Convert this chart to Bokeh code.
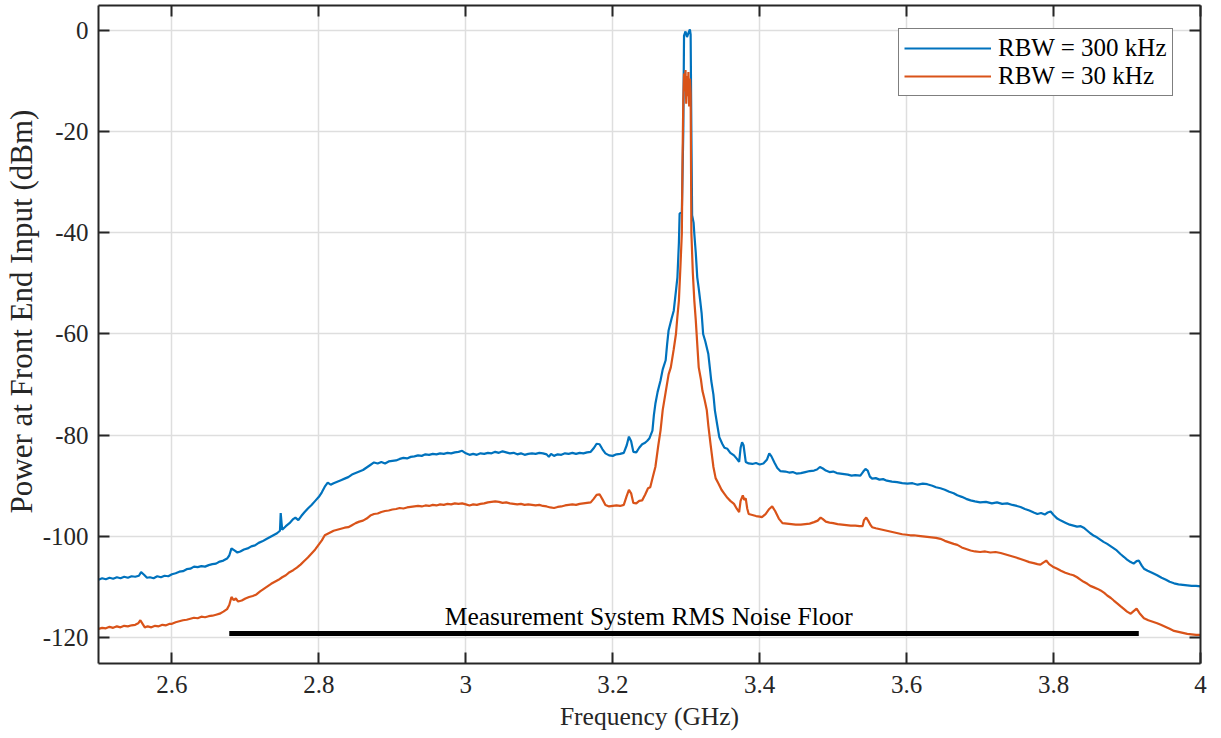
from bokeh.plotting import figure
from bokeh.models import Range1d, LinearAxis, FixedTicker, NumeralTickFormatter, Label, Title
from bokeh.embed import file_html
from bokeh.resources import INLINE

# ---------------- data ----------------
f_300 = [2.500, 2.505, 2.510, 2.515, 2.520, 2.525, 2.530, 2.535, 2.540, 2.545, 2.550, 2.555, 2.558, 2.562, 2.566,
         2.570, 2.575, 2.580, 2.585, 2.590, 2.595, 2.600, 2.605, 2.610, 2.615, 2.620, 2.625, 2.630, 2.635, 2.640,
         2.645, 2.650, 2.655, 2.660, 2.665, 2.670, 2.675, 2.678, 2.681, 2.685, 2.689, 2.693, 2.698, 2.703, 2.708,
         2.713, 2.718, 2.723, 2.728, 2.733, 2.738, 2.743, 2.747, 2.748, 2.750, 2.755, 2.760, 2.765, 2.768, 2.772,
         2.776, 2.780, 2.785, 2.790, 2.795, 2.800, 2.804, 2.808, 2.812, 2.816, 2.820, 2.825, 2.830, 2.835, 2.840,
         2.845, 2.850, 2.855, 2.860, 2.865, 2.870, 2.875, 2.880, 2.885, 2.890, 2.895, 2.900, 2.905, 2.910, 2.915,
         2.920, 2.925, 2.930, 2.935, 2.940, 2.945, 2.950, 2.955, 2.960, 2.965, 2.970, 2.975, 2.980, 2.985, 2.990,
         2.995, 3.000, 3.005, 3.010, 3.015, 3.020, 3.025, 3.030, 3.035, 3.040, 3.045, 3.050, 3.055, 3.060, 3.065,
         3.070, 3.075, 3.080, 3.085, 3.090, 3.095, 3.100, 3.105, 3.110, 3.113, 3.116, 3.120, 3.125, 3.130, 3.135,
         3.140, 3.145, 3.150, 3.155, 3.160, 3.165, 3.170, 3.174, 3.178, 3.182, 3.186, 3.190, 3.195, 3.200, 3.205,
         3.210, 3.215, 3.219, 3.222, 3.225, 3.228, 3.232, 3.236, 3.240, 3.244, 3.247, 3.250, 3.254, 3.256, 3.258,
         3.261, 3.265, 3.268, 3.272, 3.274, 3.276, 3.280, 3.283, 3.286, 3.288, 3.290, 3.291, 3.294, 3.296, 3.297,
         3.299, 3.301, 3.303, 3.305, 3.306, 3.307, 3.308, 3.310, 3.311, 3.313, 3.315, 3.317, 3.319, 3.321, 3.323,
         3.326, 3.330, 3.332, 3.334, 3.337, 3.339, 3.342, 3.345, 3.349, 3.352, 3.356, 3.360, 3.365, 3.369, 3.372,
         3.374, 3.376, 3.378, 3.381, 3.385, 3.390, 3.395, 3.400, 3.405, 3.410, 3.413, 3.416, 3.420, 3.424, 3.428,
         3.435, 3.440, 3.445, 3.450, 3.456, 3.462, 3.468, 3.474, 3.478, 3.482, 3.486, 3.490, 3.495, 3.500, 3.505,
         3.510, 3.515, 3.520, 3.525, 3.530, 3.537, 3.541, 3.544, 3.547, 3.550, 3.553, 3.558, 3.563, 3.568, 3.573,
         3.580, 3.587, 3.594, 3.601, 3.608, 3.615, 3.622, 3.628, 3.635, 3.640, 3.646, 3.652, 3.658, 3.664, 3.669,
         3.675, 3.681, 3.687, 3.693, 3.700, 3.708, 3.716, 3.723, 3.730, 3.737, 3.744, 3.750, 3.755, 3.761, 3.767,
         3.773, 3.778, 3.783, 3.788, 3.792, 3.796, 3.800, 3.805, 3.810, 3.816, 3.822, 3.827, 3.832, 3.837, 3.841,
         3.846, 3.850, 3.855, 3.859, 3.864, 3.868, 3.873, 3.877, 3.882, 3.886, 3.891, 3.896, 3.900, 3.905, 3.909,
         3.913, 3.916, 3.920, 3.923, 3.928, 3.934, 3.941, 3.947, 3.953, 3.958, 3.964, 3.970, 3.976, 3.982, 3.988,
         3.994, 4.000]
p_300 = [-108.6, -108.3, -108.5, -108.2, -108.4, -108.1, -108.3, -108.0, -108.2, -107.9, -108.0, -107.8, -107.1, -107.6, -108.2,
         -108.1, -108.3, -107.9, -108.1, -107.8, -107.9, -107.5, -107.3, -107.0, -106.9, -106.5, -106.4, -106.0, -106.1, -105.9,
         -106.0, -105.7, -105.5, -105.4, -105.0, -104.8, -104.4, -103.8, -102.4, -102.8, -103.2, -103.0, -102.6, -102.4, -102.0,
         -101.8, -101.3, -101.0, -100.6, -100.2, -99.8, -99.4, -98.9, -95.4, -98.7, -98.0, -97.4, -96.6, -96.3, -96.8,
         -96.0, -95.3, -94.5, -93.8, -93.0, -92.2, -91.3, -90.2, -89.4, -89.8, -89.5, -89.2, -88.9, -88.6, -88.3,
         -87.8, -87.5, -87.2, -86.9, -86.4, -85.9, -85.4, -85.6, -85.3, -85.6, -85.2, -85.1, -85.0, -84.7, -84.5,
         -84.6, -84.3, -84.2, -84.0, -84.1, -83.8, -83.9, -83.7, -83.8, -83.6, -83.7, -83.5, -83.6, -83.4, -83.3,
         -83.1, -83.6, -83.9, -83.7, -83.9, -83.6, -83.7, -83.5, -83.6, -83.3, -83.5, -83.2, -83.4, -83.6, -83.5,
         -83.8, -83.6, -83.9, -83.7, -83.6, -83.7, -83.5, -83.6, -83.8, -84.3, -83.7, -84.1, -83.8, -83.9, -83.6,
         -83.7, -83.5, -83.7, -83.5, -83.6, -83.4, -83.3, -82.6, -81.7, -81.8, -82.8, -83.6, -84.0, -84.1, -83.8,
         -83.7, -83.5, -82.0, -80.3, -81.2, -83.3, -83.4, -82.5, -81.8, -81.5, -81.1, -80.6, -79.1, -76.0, -73.8,
         -71.5, -69.2, -67.0, -65.2, -62.0, -59.3, -57.0, -55.4, -51.5, -48.8, -42.0, -36.2, -36.0, -20.0, -1.0,
         -0.2, -1.3, -0.5, 0.2, -0.8, -20.0, -36.5, -38.0, -40.2, -44.0, -48.8, -51.0, -53.4, -56.0, -60.0,
         -61.5, -63.9, -66.5, -69.2, -72.0, -75.1, -77.8, -80.4, -81.7, -82.5, -82.7, -83.5, -84.0, -84.7, -85.3,
         -82.5, -81.4, -82.0, -85.3, -85.6, -85.7, -85.5, -85.8, -85.6, -84.8, -83.6, -84.2, -85.4, -86.5, -87.1,
         -87.2, -87.4, -87.3, -87.6, -87.5, -87.3, -87.1, -87.0, -86.8, -86.3, -86.6, -87.0, -87.3, -87.2, -87.5,
         -87.6, -87.7, -87.8, -88.0, -87.9, -88.0, -87.2, -86.7, -87.0, -88.2, -88.6, -88.5, -88.8, -88.7, -89.0,
         -89.2, -89.3, -89.5, -89.6, -89.5, -89.8, -89.6, -89.7, -90.0, -90.3, -90.5, -90.8, -91.2, -91.5, -91.9,
         -92.2, -92.6, -92.9, -93.1, -93.3, -93.2, -93.5, -93.3, -93.6, -93.5, -93.8, -94.0, -94.2, -94.6, -94.9,
         -95.3, -95.6, -95.4, -95.7, -95.3, -95.1, -95.8, -96.5, -96.9, -97.3, -97.7, -97.9, -98.1, -98.0, -98.3,
         -98.9, -99.4, -99.9, -100.2, -100.7, -101.1, -101.5, -101.9, -102.4, -102.8, -103.5, -104.1, -104.6, -105.1, -105.4,
         -104.9, -104.8, -105.8, -106.4, -106.8, -107.2, -107.7, -108.2, -108.6, -109.0, -109.3, -109.5, -109.6, -109.7, -109.8,
         -109.8, -109.9]

f_30 = [2.500, 2.505, 2.510, 2.515, 2.520, 2.525, 2.530, 2.535, 2.540, 2.545, 2.550, 2.554, 2.557, 2.560, 2.563,
        2.567, 2.572, 2.577, 2.582, 2.587, 2.592, 2.597, 2.600, 2.605, 2.610, 2.615, 2.620, 2.625, 2.630, 2.635,
        2.640, 2.645, 2.650, 2.655, 2.660, 2.665, 2.670, 2.675, 2.678, 2.681, 2.684, 2.687, 2.690, 2.695, 2.700,
        2.705, 2.710, 2.715, 2.720, 2.725, 2.730, 2.735, 2.740, 2.745, 2.750, 2.755, 2.760, 2.765, 2.770, 2.775,
        2.780, 2.785, 2.790, 2.795, 2.800, 2.804, 2.808, 2.812, 2.816, 2.820, 2.825, 2.830, 2.835, 2.840, 2.845,
        2.850, 2.855, 2.860, 2.865, 2.870, 2.875, 2.880, 2.885, 2.890, 2.895, 2.900, 2.905, 2.910, 2.915, 2.920,
        2.925, 2.930, 2.935, 2.940, 2.945, 2.950, 2.955, 2.960, 2.965, 2.970, 2.975, 2.980, 2.985, 2.990, 2.995,
        3.000, 3.005, 3.010, 3.015, 3.020, 3.025, 3.030, 3.035, 3.040, 3.045, 3.050, 3.055, 3.060, 3.065, 3.070,
        3.075, 3.080, 3.085, 3.090, 3.095, 3.100, 3.105, 3.110, 3.115, 3.120, 3.125, 3.130, 3.135, 3.140, 3.145,
        3.150, 3.155, 3.160, 3.165, 3.170, 3.174, 3.178, 3.182, 3.186, 3.190, 3.195, 3.200, 3.205, 3.210, 3.215,
        3.219, 3.222, 3.225, 3.228, 3.232, 3.236, 3.240, 3.244, 3.248, 3.251, 3.255, 3.258, 3.262, 3.265, 3.268,
        3.272, 3.276, 3.279, 3.283, 3.286, 3.288, 3.290, 3.292, 3.294, 3.295, 3.296, 3.297, 3.298, 3.299, 3.300,
        3.301, 3.302, 3.303, 3.304, 3.305, 3.306, 3.307, 3.309, 3.311, 3.313, 3.315, 3.317, 3.320, 3.322, 3.325,
        3.328, 3.330, 3.333, 3.335, 3.337, 3.340, 3.344, 3.348, 3.352, 3.356, 3.360, 3.365, 3.369, 3.372, 3.374,
        3.377, 3.379, 3.381, 3.383, 3.385, 3.390, 3.395, 3.400, 3.403, 3.408, 3.413, 3.417, 3.421, 3.426, 3.431,
        3.437, 3.443, 3.449, 3.456, 3.462, 3.468, 3.474, 3.479, 3.483, 3.486, 3.490, 3.495, 3.500, 3.506, 3.512,
        3.518, 3.524, 3.530, 3.536, 3.540, 3.542, 3.545, 3.548, 3.551, 3.553, 3.558, 3.564, 3.570, 3.576, 3.582,
        3.588, 3.594, 3.600, 3.605, 3.610, 3.616, 3.622, 3.628, 3.634, 3.640, 3.646, 3.652, 3.658, 3.664, 3.669,
        3.675, 3.681, 3.687, 3.693, 3.700, 3.707, 3.714, 3.721, 3.728, 3.735, 3.742, 3.749, 3.755, 3.761, 3.767,
        3.773, 3.778, 3.782, 3.786, 3.790, 3.794, 3.799, 3.805, 3.810, 3.816, 3.822, 3.827, 3.832, 3.837, 3.841,
        3.846, 3.850, 3.855, 3.860, 3.864, 3.869, 3.873, 3.878, 3.882, 3.887, 3.891, 3.896, 3.900, 3.905, 3.909,
        3.913, 3.917, 3.923, 3.929, 3.935, 3.941, 3.946, 3.952, 3.958, 3.964, 3.970, 3.976, 3.982, 3.988, 3.994,
        4.000]
p_30 = [-118.3, -118.1, -118.2, -117.9, -118.1, -117.8, -118.0, -117.7, -117.8, -117.6, -117.5, -117.2, -116.6, -117.3, -118.0,
        -117.8, -118.0, -117.7, -117.8, -117.5, -117.6, -117.3, -117.3, -117.0, -116.8, -116.6, -116.5, -116.3, -116.1, -116.2,
        -115.9, -116.0, -115.8, -115.7, -115.5, -115.3, -114.9, -114.4, -113.6, -112.0, -112.6, -112.3, -112.9, -112.7, -112.3,
        -112.0, -111.8, -111.5, -110.9, -110.4, -109.9, -109.4, -109.0, -108.6, -108.1, -107.7, -107.1, -106.7, -106.2, -105.6,
        -104.9, -104.2, -103.4, -102.6, -101.6, -100.8, -99.8, -99.5, -99.2, -98.9, -98.7, -98.5, -98.3, -98.2, -97.8,
        -97.4, -97.1, -96.9, -96.5, -95.9, -95.6, -95.5, -95.2, -95.0, -94.9, -94.7, -94.6, -94.4, -94.5, -94.3,
        -94.2, -94.1, -94.0, -94.1, -93.9, -94.0, -93.8, -93.9, -93.7, -93.8, -93.6, -93.7, -93.5, -93.6, -93.5,
        -93.7, -93.9, -93.7, -93.8, -93.6, -93.5, -93.3, -93.2, -93.1, -93.2, -93.4, -93.3, -93.5, -93.6, -93.7,
        -93.6, -93.8, -93.7, -93.8, -93.9, -93.8, -94.0, -94.1, -94.3, -94.4, -94.2, -94.1, -93.9, -93.8, -93.7,
        -93.8, -93.6, -93.5, -93.4, -93.3, -92.6, -91.8, -91.7, -92.7, -93.8, -94.1, -94.0, -93.9, -94.0, -93.8,
        -92.0, -90.8, -91.5, -93.4, -93.5, -93.0, -92.9, -91.8, -90.5, -90.3, -88.0, -86.3, -82.0, -79.1, -75.0,
        -71.5, -68.0, -66.6, -63.0, -60.0, -56.5, -53.4, -47.0, -40.2, -25.0, -13.8, -8.5, -12.0, -7.8, -14.5,
        -9.0, -13.0, -8.2, -15.0, -9.5, -12.5, -40.0, -48.0, -53.4, -57.3, -62.0, -66.6, -69.0, -71.2, -73.0,
        -75.1, -78.0, -81.7, -84.0, -86.3, -88.5, -89.6, -90.8, -91.6, -92.4, -93.0, -93.6, -94.6, -95.2, -93.0,
        -91.9, -92.8, -92.5, -94.5, -95.6, -95.8, -96.0, -96.1, -96.2, -95.6, -94.6, -94.1, -95.0, -96.5, -97.4,
        -97.5, -97.6, -97.7, -97.7, -97.6, -97.5, -97.2, -96.9, -96.3, -96.6, -97.1, -97.3, -97.4, -97.6, -97.7,
        -97.8, -97.9, -97.9, -98.0, -98.0, -96.8, -96.3, -97.0, -97.8, -98.2, -98.4, -98.6, -98.8, -99.0, -99.2,
        -99.4, -99.6, -99.7, -99.8, -99.8, -99.9, -100.0, -100.1, -100.2, -100.3, -100.5, -100.9, -101.2, -101.5, -101.7,
        -102.2, -102.5, -102.8, -103.0, -103.1, -103.0, -103.2, -103.1, -103.3, -103.6, -103.9, -104.2, -104.5, -104.8, -105.1,
        -105.3, -105.5, -105.6, -105.2, -104.8, -105.5, -106.0, -106.4, -106.8, -107.2, -107.5, -107.7, -108.1, -108.6, -109.0,
        -109.4, -109.8, -110.1, -110.4, -110.7, -111.2, -111.7, -112.2, -112.7, -113.3, -113.8, -114.4, -114.9, -115.3, -114.8,
        -114.3, -115.2, -116.2, -116.6, -116.9, -117.2, -117.5, -117.9, -118.3, -118.7, -118.9, -119.1, -119.3, -119.4, -119.5,
        -119.5]

floor_f = [2.678, 3.916]
floor_p = [-119.2, -119.2]
floor_text = "Measurement System RMS Noise Floor"
floor_text_pos = (3.249, -118.8)

x_ticks = [2.6, 2.8, 3.0, 3.2, 3.4, 3.6, 3.8, 4.0]
y_ticks = [-120, -100, -80, -60, -40, -20, 0]
y_tick_labels = ["-120", "-100", "-80", "-60", "-40", "-20", "0"]
series_labels = ["RBW = 300 kHz", "RBW = 30 kHz"]
x_label = "Frequency (GHz)"
y_label = "Power at Front End Input (dBm)"

# ---------------- styling ----------------
FONT = "Liberation Serif"
AX = "#262626"
BLUE = "#0072BD"
ORANGE = "#D95319"

p = figure(frame_width=1102, frame_height=658, output_backend="svg", toolbar_location=None,
           x_range=Range1d(2.5, 4.0), y_range=Range1d(-125.15, 4.94),
           min_border_left=98, min_border_right=15, min_border_top=5, min_border_bottom=8,
           background_fill_color="white", border_fill_color="white")
p.outline_line_color = None

p.line(f_300, p_300, line_color=BLUE, line_width=2.2, legend_label=series_labels[0])
p.line(f_30, p_30, line_color=ORANGE, line_width=2.2, legend_label=series_labels[1])
p.line(floor_f, floor_p, line_color="black", line_width=5)

p.add_layout(Label(x=floor_text_pos[0], y=floor_text_pos[1], text=floor_text, text_align="center",
                   text_baseline="bottom", text_font=FONT, text_font_size="25.5px", text_color="black"))

for ax in (p.xaxis[0], p.yaxis[0]):
    ax.axis_line_color = AX
    ax.axis_line_width = 2
    ax.major_tick_line_color = AX
    ax.major_tick_line_width = 2
    ax.major_tick_in = 11
    ax.major_tick_out = 0
    ax.minor_tick_line_color = None
    ax.major_label_text_font = FONT
    ax.major_label_text_font_size = "25px"
    ax.major_label_text_color = AX
    ax.axis_label_text_font = FONT
    ax.axis_label_text_font_style = "normal"
    ax.axis_label_text_color = AX

p.xaxis.ticker = FixedTicker(ticks=x_ticks)
p.xaxis.formatter = NumeralTickFormatter(format="0.[0]")
p.xaxis.major_label_standoff = 12
p.xaxis.axis_label = x_label
p.xaxis.axis_label_text_font_size = "25.5px"
p.xaxis.axis_label_standoff = 6

p.yaxis.ticker = FixedTicker(ticks=y_ticks)
p.yaxis.major_label_overrides = {t: s for t, s in zip(y_ticks, y_tick_labels)}
p.yaxis.major_label_standoff = 10

for loc, ticks in (("above", x_ticks), ("right", y_ticks)):
    a = LinearAxis(ticker=FixedTicker(ticks=ticks), axis_line_color=AX, axis_line_width=2,
                   major_tick_line_color=AX, major_tick_line_width=2, major_tick_in=11, major_tick_out=0,
                   minor_tick_line_color=None, major_label_text_font_size="0px", major_label_standoff=0,
                   major_label_text_alpha=0)
    p.add_layout(a, loc)

# y-axis title in the left panel, positioned like the reference
p.add_layout(Title(text=y_label, align="left", offset=150, standoff=0, vertical_align="middle",
                   text_font=FONT, text_font_size="31px", text_font_style="normal", text_color=AX), "left")

p.xgrid.ticker = FixedTicker(ticks=x_ticks)
p.ygrid.ticker = FixedTicker(ticks=y_ticks)
p.grid.grid_line_color = "#dedede"
p.grid.grid_line_width = 1.5

lg = p.legend[0]
lg.location = (800, 567)
lg.label_text_font = FONT
lg.label_text_font_size = "25px"
lg.label_text_color = "black"
lg.glyph_width = 87
lg.glyph_height = 28
lg.label_height = 28
lg.label_standoff = 7
lg.spacing = 0
lg.padding = 5
lg.margin = 0
lg.border_line_color = "black"
lg.border_line_width = 1.5
lg.background_fill_alpha = 1

open("out.html", "w").write(file_html(p, INLINE))
